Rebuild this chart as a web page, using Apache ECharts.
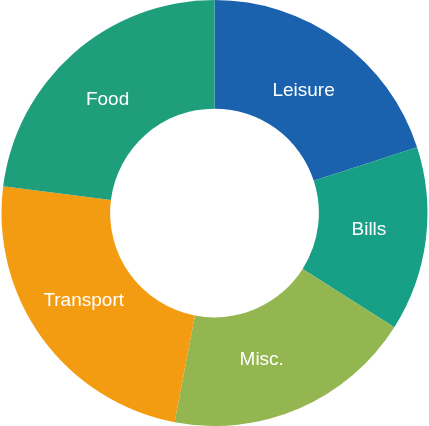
<!DOCTYPE html>
<html>
<head>
<meta charset="utf-8">
<script src="https://cdn.jsdelivr.net/npm/echarts@6/dist/echarts.min.js"></script>
<style>
  html, body { margin: 0; padding: 0; background: #fff; }
  #chart { width: 429px; height: 426px; }
</style>
</head>
<body>
<div id="chart"></div>
<script>
const categories = ['Leisure', 'Bills', 'Misc.', 'Transport', 'Food'];
const values = [20, 14, 19, 24, 23];
const colors = ['#1a62ae', '#17a085', '#93b650', '#f39c12', '#1f9e7c'];

// small nudges so the labels sit where the original put them
const labelNudge = [[-6, 9], [-6, -3], [-17, -2], [0, -7], [0, 8]];

const chart = echarts.init(document.getElementById('chart'));

chart.setOption({
  animation: false,
  series: [{
    type: 'pie',
    center: ['50%', '50%'],
    radius: ['49%', '100%'],
    startAngle: 90,
    clockwise: true,
    color: colors,
    itemStyle: { borderWidth: 0 },
    label: {
      show: true,
      position: 'inside',
      color: '#fff',
      fontFamily: 'Liberation Sans',
      fontSize: 19
    },
    labelLine: { show: false },
    emphasis: { disabled: true },
    data: categories.map((name, i) => ({
      name,
      value: values[i],
      label: { offset: labelNudge[i] }
    }))
  }]
});
</script>
</body>
</html>
